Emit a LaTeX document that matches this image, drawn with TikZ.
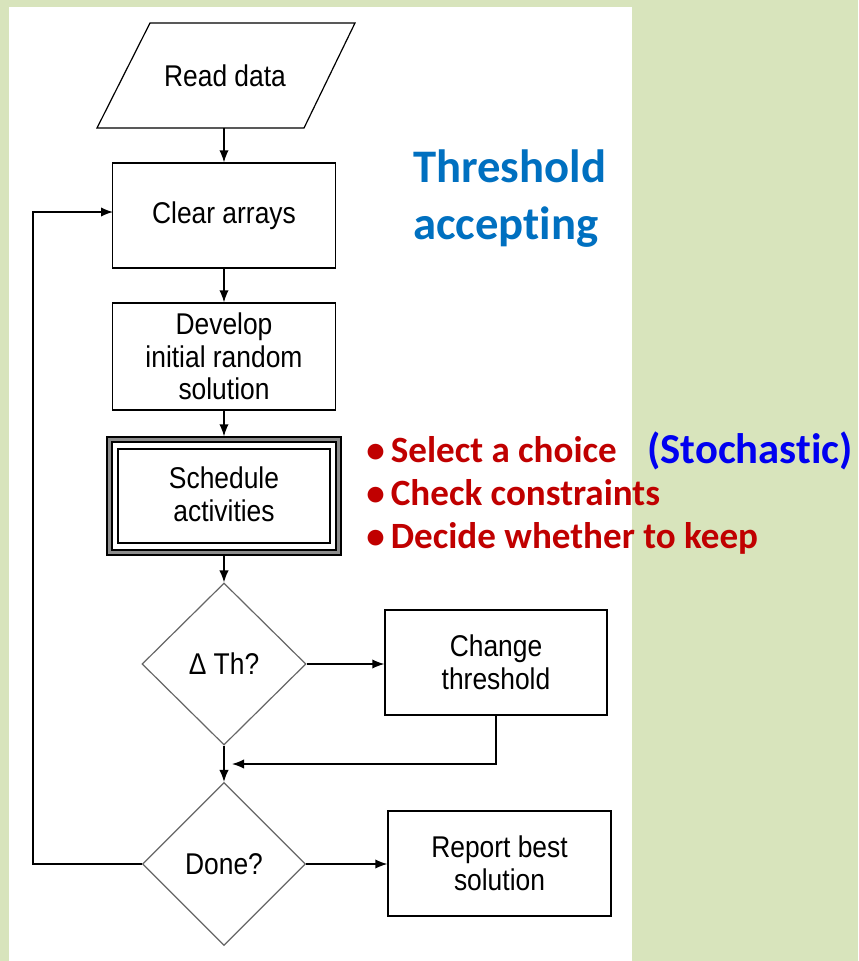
\documentclass[tikz,border=0pt]{standalone}
\usepackage{fontspec}
\setmainfont[FakeStretch=0.88]{Liberation Sans}
\newfontfamily\calibfont[Ligatures=NoCommon]{Carlito}
\usetikzlibrary{arrows.meta,shapes.geometric,calc}
\definecolor{bggreen}{HTML}{D8E4BC}
\definecolor{titleblue}{HTML}{0070C0}
\definecolor{bulred}{HTML}{C00000}
\definecolor{stochblue}{HTML}{0000F0}
\begin{document}
\begin{tikzpicture}[x=0.75pt,y=-0.75pt,
  box/.style={draw=black,line width=1pt,fill=white,rectangle,inner sep=0pt,align=center,font=\fontsize{22.5}{24.5}\selectfont},
  plain/.style={rectangle,inner sep=0pt,align=center,font=\fontsize{22.5}{24.5}\selectfont},
  dia/.style={draw=black!60,line width=0.9pt,fill=white,diamond,inner sep=0pt,align=center,font=\fontsize{22.5}{24.5}\selectfont},
  conn/.style={line width=1pt,-{Latex[length=9pt,width=7pt]}},
  title/.style={inner sep=0pt,anchor=base west,text=titleblue,font=\calibfont\bfseries\fontsize{35}{40}\selectfont},
  bul/.style={inner sep=0pt,anchor=base west,text=bulred,font=\calibfont\bfseries\fontsize{27.8}{32}\selectfont},
  stoch/.style={inner sep=0pt,anchor=base west,text=stochblue,font=\calibfont\bfseries\fontsize{32}{36}\selectfont}]
\fill[bggreen] (0,0) rectangle (858,961);
\fill[white] (9,7) rectangle (632,961);
\useasboundingbox (0,0) rectangle (858,961);
% read data
\draw[line width=0.9pt] (150,23) -- (355,23) -- (304,128) -- (97,128) -- cycle;
\node[plain,minimum height=78.75pt] (read) at (225,75.5) {Read data};
% boxes
\node[box,minimum width=167.25pt,minimum height=78.75pt] (clear) at (224,215.5) {Clear arrays};
\node[box,minimum width=167.25pt,minimum height=80.25pt] (develop) at (224,356.5) {Develop\\initial random\\solution};
% schedule (triple border)
\node[draw=black,line width=1pt,fill=white,rectangle,inner sep=0pt,minimum width=175.5pt,minimum height=88.5pt] (sched) at (224,496) {};
\draw[black!45,line width=2.5pt] (109.5,439.5) rectangle (338.5,552.5);
\draw[black,line width=1pt] (112,442) rectangle (336,550);
\draw[black,line width=1.2pt] (118,449) rectangle (330,543);
\node[plain] (schedtxt) at (224,494.5) {Schedule\\activities};
% decisions
\node[dia,minimum width=123pt,minimum height=121.5pt] (dth) at (224,664) {Δ Th?};
\node[box,minimum width=166.5pt,minimum height=78.75pt] (change) at (496,662.5) {Change\\threshold};
\node[dia,minimum width=122.25pt,minimum height=122.25pt] (done) at (224,864) {Done?};
\node[box,minimum width=167.25pt,minimum height=78.75pt] (report) at (499.5,863.5) {Report best\\solution};
% connectors
\coordinate (fb) at (232,764);
\coordinate (lp) at (33,864);
\coordinate (clin) at (113,212);
\draw[conn] (clear.north |- read.south) -- (clear.north);
\draw[conn] (clear.south) -- (develop.north);
\draw[conn] (develop.south) -- (sched.north);
\draw[conn] (sched.south) -- (dth.north);
\draw[conn] (dth.east) -- (change.west |- dth.east);
\draw[conn] (change.south) |- (fb);
\draw[conn] (dth.south) -- (done.north);
\draw[conn] (done.east) -- (report.west |- done.east);
\draw[conn] (done.west) -- (lp) -- (lp |- clin) -- (clin);
% annotations
\node[title] (t1) at (413,182) {Threshold};
\node[title] (t2) at (413,239) {accepting};
\node[bul] (b1) at (366,462) {•\,Select a choice};
\node[bul] (b2) at (366,505) {•\,Check constraints};
\node[bul] (b3) at (366,548) {•\,Decide whether to keep};
\node[stoch] (st) at (647,463) {(Stochastic)};
\end{tikzpicture}
\end{document}
